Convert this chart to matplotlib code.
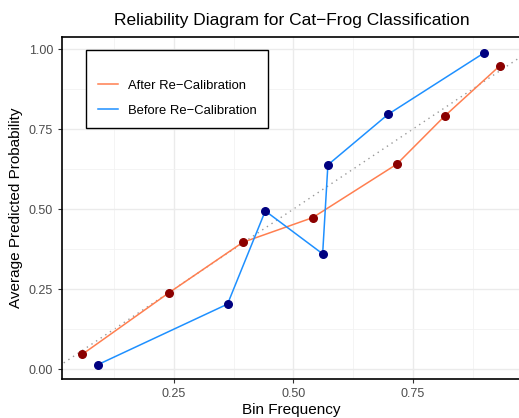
import numpy as np
import matplotlib
matplotlib.use("Agg")
import matplotlib.pyplot as plt

plt.rcParams['font.family'] = ['Liberation Sans', 'DejaVu Sans']

# bin frequency / predicted probability
after_x = [0.058, 0.240, 0.394, 0.540, 0.716, 0.816, 0.932]
after_y = [0.046, 0.239, 0.396, 0.473, 0.640, 0.790, 0.948]
before_x = [0.091, 0.362, 0.441, 0.561, 0.572, 0.698, 0.899]
before_y = [0.014, 0.203, 0.494, 0.360, 0.638, 0.796, 0.988]

ticks = [0.25, 0.50, 0.75]
yticks = [0.00, 0.25, 0.50, 0.75, 1.00]

fig = plt.figure(figsize=(5.19, 4.18), dpi=100)
ax = fig.add_axes([62/519, 39/418, 459/519, 342/418])

ax.set_xlim(0.0157, 0.976)
ax.set_ylim(-0.031, 1.0375)

# grid like theme_bw
ax.set_xticks(ticks)
ax.set_yticks(yticks)
ax.set_xticks([0.125, 0.375, 0.625, 0.875], minor=True)
ax.set_yticks([0.125, 0.375, 0.625, 0.875], minor=True)
ax.grid(True, which='major', color='#ebebeb', lw=1.0, zorder=0)
ax.grid(True, which='minor', color='#f2f2f2', lw=0.6, zorder=0)
ax.tick_params(which='minor', length=0)
ax.tick_params(which='major', length=3, color='#333333', labelsize=9,
               labelcolor='#4d4d4d', width=0.8)
ax.set_xticklabels(['0.25', '0.50', '0.75'])
ax.set_yticklabels(['0.00', '0.25', '0.50', '0.75', '1.00'])
for s in ax.spines.values():
    s.set_color('black')
    s.set_linewidth(1.2)

ax.plot([0, 1], [0, 1], ls=(0, (1, 3)), color='#999999', lw=1.0, zorder=1)

ax.plot(after_x, after_y, color='#ff7f50', lw=1.1, label='After Re\u2212Calibration', zorder=2)
ax.plot(before_x, before_y, color='#1e90ff', lw=1.1, label='Before Re\u2212Calibration', zorder=2)
ax.scatter(after_x, after_y, color='#8b0000', s=30, zorder=3)
ax.scatter(before_x, before_y, color='#000080', s=30, zorder=3)

leg = ax.legend(loc='upper left', bbox_to_anchor=(0.0523, 0.962), borderaxespad=0,
                title=' ', fontsize=9.4, frameon=True, fancybox=False, framealpha=1,
                edgecolor='black', handlelength=1.55, handletextpad=0.75,
                borderpad=0.9, labelspacing=0.98, title_fontsize=4.5)
leg.get_frame().set_linewidth(1.0)

ax.set_title('Reliability Diagram for Cat\u2212Frog Classification', fontsize=12.5, pad=9)
ax.set_xlabel('Bin Frequency', fontsize=11, labelpad=2)
ax.set_ylabel('Average Predicted Probability', fontsize=11, labelpad=4)

fig.savefig('out.png', dpi=100)
